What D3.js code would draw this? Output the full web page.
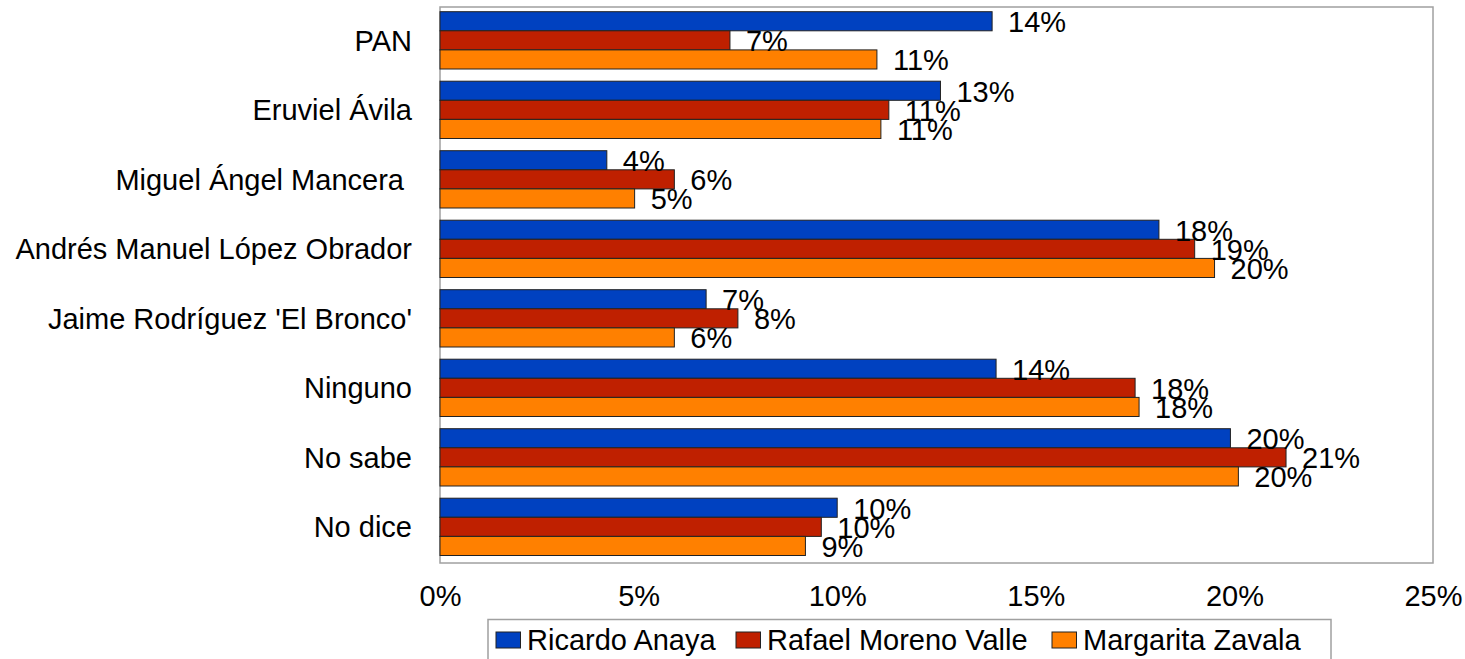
<!DOCTYPE html>
<html>
<head>
<meta charset="utf-8">
<script src="https://cdn.jsdelivr.net/npm/d3@7"></script>
<style>
  html, body { margin: 0; padding: 0; background: #fff; }
  svg { display: block; font-family: "Liberation Sans", Arial, sans-serif; }
  text { white-space: pre; }
</style>
</head>
<body>
<svg id="chart" width="1465" height="659"></svg>
<script>
const categories = ["PAN", "Eruviel Ávila", "Miguel Ángel Mancera ", "Andrés Manuel López Obrador", "Jaime Rodríguez 'El Bronco'", "Ninguno", "No sabe", "No dice"];
const series = ["Ricardo Anaya", "Rafael Moreno Valle", "Margarita Zavala"];
const anayaValues = [13.9, 12.6, 4.2, 18.1, 6.7, 14.0, 19.9, 10.0];
const morenoValleValues = [7.3, 11.3, 5.9, 19.0, 7.5, 17.5, 21.3, 9.6];
const zavalaValues = [11.0, 11.1, 4.9, 19.5, 5.9, 17.6, 20.1, 9.2];
const xTicks = [0, 5, 10, 15, 20, 25];
const colors = ["#0041c0", "#bf2000", "#ff8000"];

(function () {
const valuesBySeries = [anayaValues, morenoValleValues, zavalaValues];
const data = categories.map((c, i) => ({
  cat: c,
  vals: series.map((s, j) => ({ series: s, j: j, v: valuesBySeries[j][i] }))
}));

const FS = 29;
const svg = d3.select("#chart");
const pLeft = 440, pRight = 1433, pTop = 7, pBottom = 563;

const x = d3.scaleLinear().domain([0, 25]).range([pLeft, pRight]);
const y0 = d3.scaleBand().domain(categories).range([pTop, pBottom]);
const y1 = d3.scaleBand().domain(series).range([4.7, 4.7 + 57.3]);

// frame
svg.append("rect")
  .attr("x", pLeft).attr("y", pTop)
  .attr("width", pRight - pLeft).attr("height", pBottom - pTop)
  .attr("fill", "#fff").attr("stroke", "#a0a0a0").attr("stroke-width", 1.5);

// groups
const g = svg.selectAll("g.grp").data(data).join("g")
  .attr("class", "grp")
  .attr("transform", d => `translate(0,${y0(d.cat)})`);

g.selectAll("rect").data(d => d.vals).join("rect")
  .attr("x", x(0))
  .attr("y", d => y1(d.series))
  .attr("width", d => x(d.v) - x(0))
  .attr("height", y1.bandwidth())
  .attr("fill", d => colors[d.j])
  .attr("stroke", "#222").attr("stroke-width", 1);

g.selectAll("text.val").data(d => d.vals).join("text")
  .attr("class", "val")
  .attr("x", d => x(d.v) + 16)
  .attr("y", d => y1(d.series) + y1.bandwidth() / 2 + 11)
  .attr("font-size", FS)
  .attr("fill", "#000")
  .text(d => Math.round(d.v) + "%");

// category labels
svg.selectAll("text.cat").data(categories).join("text")
  .attr("class", "cat")
  .attr("x", 412)
  .attr("y", d => y0(d) + 4.7 + 57.3 / 2 + 10.5)
  .attr("text-anchor", "end")
  .attr("font-size", FS)
  .attr("fill", "#000")
  .text(d => d);

// x axis tick labels
const axis = d3.axisBottom(x).tickValues(xTicks).tickSize(0).tickPadding(0)
  .tickFormat(d => d + "%");
const ax = svg.append("g").attr("transform", `translate(0,${pBottom})`).call(axis);
ax.select(".domain").remove();
ax.selectAll("text")
  .attr("font-size", FS)
  .attr("font-family", "Liberation Sans, Arial, sans-serif")
  .attr("fill", "#000")
  .attr("dy", null)
  .attr("y", 43);

// legend
const legendX = [496, 736, 1052];
svg.append("rect")
  .attr("x", 488).attr("y", 619.5)
  .attr("width", 843).attr("height", 60)
  .attr("fill", "#fff").attr("stroke", "#a0a0a0").attr("stroke-width", 1.5);
const lg = svg.selectAll("g.leg").data(series).join("g")
  .attr("class", "leg")
  .attr("transform", (d, i) => `translate(${legendX[i]},0)`);
lg.append("rect")
  .attr("x", 0).attr("y", 632)
  .attr("width", 24.5).attr("height", 16)
  .attr("fill", (d, i) => colors[i])
  .attr("stroke", "#222").attr("stroke-width", 1);
lg.append("text")
  .attr("x", 31).attr("y", 650)
  .attr("font-size", FS)
  .attr("fill", "#000")
  .text(d => d);
})();
</script>
</body>
</html>
